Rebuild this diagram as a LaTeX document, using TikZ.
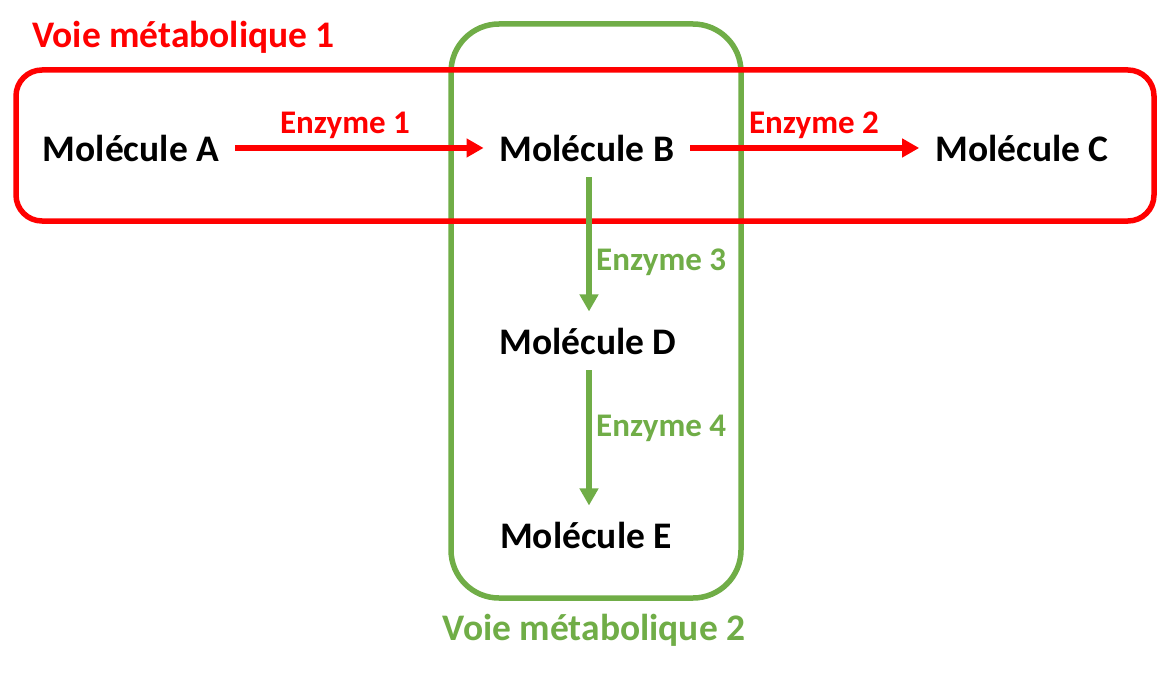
\documentclass[tikz,border=0pt]{standalone}
\usepackage{fontspec}
\setmainfont{Carlito}
\usetikzlibrary{arrows.meta}
\definecolor{vred}{HTML}{FF0000}
\definecolor{vgreen}{HTML}{70AD47}
\begin{document}
\begin{tikzpicture}[x=1pt,y=-1pt,
  mol/.style={font=\fontsize{37.5}{40}\selectfont\bfseries, inner sep=0pt, anchor=base},
  enz/.style={font=\fontsize{33}{36}\selectfont\bfseries, inner sep=0pt},
  path/.style={font=\fontsize{37.5}{40}\selectfont\bfseries, inner sep=0pt, anchor=base},
  boxline/.style={line width=5.5pt, rounded corners=#1},
  conn/.style={line width=5.5pt, -{Triangle[length=17pt,width=18pt]}, shorten <=#1, shorten >=#1}]
\useasboundingbox (0,0) rectangle (1173,674);
% boxes
\draw[boxline=48pt, vgreen] (451,24) rectangle (741,598);
\draw[boxline=26pt, vred] (16,70) rectangle (1154,221);
% path titles
\node[path, vred, anchor=base west] (t1) at (32,48) {Voie métabolique 1};
\node[path, vgreen] (t2) at (594,640) {Voie métabolique 2};
% molecules
\node[mol] (A) at (131,161) {Molécule A};
\node[mol] (B) at (587,161) {Molécule B};
\node[mol] (C) at (1022,161) {Molécule C};
\node[mol] (D) at (588,354) {Molécule D};
\node[mol] (E) at (586,548) {Molécule E};
% enzymes
\node[enz, vred, anchor=base] (e1) at (345,134) {Enzyme 1};
\node[enz, vred, anchor=base] (e2) at (814,134) {Enzyme 2};
\node[enz, vgreen, anchor=base west] (e3) at (596,270) {Enzyme 3};
\node[enz, vgreen, anchor=base west] (e4) at (596,436) {Enzyme 4};
% connectors
\draw[conn=16pt, vred] (A.east) -- (B.west);
\draw[conn=16pt, vred] (B.east) -- (C.west);
\draw[conn=16pt, vgreen] (B.south -| 589,0) -- (D.north -| 589,0);
\draw[conn=16pt, vgreen] (D.south -| 589,0) -- (E.north -| 589,0);
\end{tikzpicture}
\end{document}
